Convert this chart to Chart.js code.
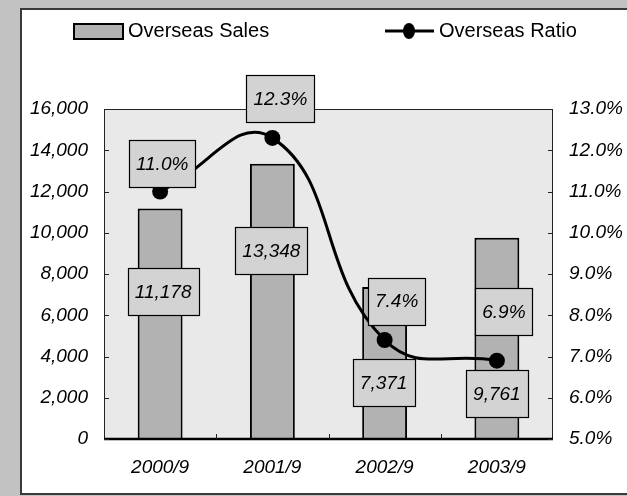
<!DOCTYPE html>
<html>
<head>
<meta charset="utf-8">
<script src="https://cdn.jsdelivr.net/npm/chart.js@4.4.1/dist/chart.umd.min.js"></script>
<style>
  html, body { margin: 0; padding: 0; background: #c2c2c2; }
  canvas { display: block; }
</style>
</head>
<body>
<canvas id="overseasChart" width="627" height="496"></canvas>
<script>
const categories = ['2000/9', '2001/9', '2002/9', '2003/9'];
const salesValues = [11178, 13348, 7371, 9761];
const ratioValues = [11.0, 12.3, 7.4, 6.9];
const salesTicks = [0, 2000, 4000, 6000, 8000, 10000, 12000, 14000, 16000];
const ratioTicks = [5, 6, 7, 8, 9, 10, 11, 12, 13];

// label box offsets from the point / bar top (px)
const ratioLabelOffsets = [[2, -28], [8, -39], [12, -39], [7, -49]];
const salesLabelOffsets = [[3, 83], [-1, 87], [-1, 96], [0, 156]];

const FONT = "'Liberation Sans', Arial, sans-serif";
const OUTER_BG = '#c2c2c2';
const PLOT_BG = '#e9e9e9';
const BAR_BG = '#b2b2b2';
const BOX_BG = '#d3d3d3';

function fmtSales(v) {
    return v.toLocaleString('en-US');
}
function fmtRatio(v) {
    return v.toFixed(1) + '%';
}

function drawBox(ctx, cx, cy, text) {
    ctx.font = 'italic 19px ' + FONT;
    const w = Math.round(ctx.measureText(text).width) + 14;
    const h = 47;
    const x = Math.round(cx - w / 2) + 0.5;
    const y = Math.round(cy - h / 2) + 0.5;
    ctx.fillStyle = BOX_BG;
    ctx.fillRect(x, y, w, h);
    ctx.strokeStyle = '#000';
    ctx.lineWidth = 1.2;
    ctx.strokeRect(x, y, w, h);
    ctx.fillStyle = '#000';
    ctx.textAlign = 'center';
    ctx.textBaseline = 'middle';
    ctx.fillText(text, cx, cy + 1);
}

const framePlugin = {
    id: 'framePlugin',
    beforeDraw(chart) {
        const ctx = chart.ctx;
        const a = chart.chartArea;
        ctx.save();
        ctx.fillStyle = OUTER_BG;
        ctx.fillRect(0, 0, chart.width, chart.height);
        ctx.fillStyle = '#fff';
        ctx.fillRect(20, 8, chart.width - 20, 487);
        ctx.strokeStyle = '#3a3a3a';
        ctx.lineWidth = 2;
        ctx.beginPath();
        ctx.moveTo(chart.width, 9);
        ctx.lineTo(21, 9);
        ctx.lineTo(21, 494);
        ctx.lineTo(chart.width, 494);
        ctx.stroke();
        ctx.fillStyle = PLOT_BG;
        ctx.fillRect(a.left, a.top, a.right - a.left, a.bottom - a.top);

        // legend
        ctx.fillStyle = BAR_BG;
        ctx.fillRect(74, 24, 49, 15);
        ctx.strokeStyle = '#000';
        ctx.lineWidth = 2;
        ctx.strokeRect(74, 24, 49, 15);
        ctx.fillStyle = '#000';
        ctx.font = '20px ' + FONT;
        ctx.textAlign = 'left';
        ctx.textBaseline = 'middle';
        ctx.fillText('Overseas Sales', 128, 31);
        ctx.lineWidth = 3;
        ctx.beginPath();
        ctx.moveTo(385, 31);
        ctx.lineTo(434, 31);
        ctx.stroke();
        ctx.beginPath();
        ctx.ellipse(409, 31, 6, 8, 0, 0, Math.PI * 2);
        ctx.fill();
        ctx.fillText('Overseas Ratio', 439, 31);
        ctx.restore();
    },
    afterDatasetsDraw(chart) {
        const ctx = chart.ctx;
        const a = chart.chartArea;
        ctx.save();
        // plot border
        ctx.strokeStyle = '#222';
        ctx.lineWidth = 1;
        ctx.strokeRect(a.left + 0.5, a.top + 0.5, a.right - a.left - 1, a.bottom - a.top);
        ctx.lineWidth = 2.5;
        ctx.strokeStyle = '#000';
        ctx.beginPath();
        ctx.moveTo(a.left, a.bottom);
        ctx.lineTo(a.right, a.bottom);
        ctx.stroke();

        // inward tick marks
        ctx.lineWidth = 1;
        ctx.strokeStyle = '#222';
        const y = chart.scales.y;
        const y1 = chart.scales.y1;
        const x = chart.scales.x;
        salesTicks.forEach(v => {
            const py = Math.round(y.getPixelForValue(v)) + 0.5;
            ctx.beginPath();
            ctx.moveTo(a.left, py);
            ctx.lineTo(a.left + 5, py);
            ctx.stroke();
        });
        ratioTicks.forEach(v => {
            const py = Math.round(y1.getPixelForValue(v)) + 0.5;
            ctx.beginPath();
            ctx.moveTo(a.right - 5, py);
            ctx.lineTo(a.right, py);
            ctx.stroke();
        });
        const step = (a.right - a.left) / categories.length;
        for (let i = 1; i < categories.length; i++) {
            const px = Math.round(a.left + step * i) + 0.5;
            ctx.beginPath();
            ctx.moveTo(px, a.bottom);
            ctx.lineTo(px, a.bottom - 5);
            ctx.stroke();
        }

        // data labels
        const bars = chart.getDatasetMeta(0).data;
        const points = chart.getDatasetMeta(1).data;
        bars.forEach((bar, i) => {
            const off = salesLabelOffsets[i];
            drawBox(ctx, bar.x + off[0], bar.y + off[1], fmtSales(salesValues[i]));
        });
        points.forEach((pt, i) => {
            const off = ratioLabelOffsets[i];
            drawBox(ctx, pt.x + off[0], pt.y + off[1], fmtRatio(ratioValues[i]));
        });
        ctx.restore();
    }
};

window.addEventListener('load', function () {
    const ctx = document.getElementById('overseasChart').getContext('2d');
    const tickFont = { family: FONT, size: 19, style: 'italic' };

    new Chart(ctx, {
        data: {
            labels: categories,
            datasets: [{
                type: 'bar',
                label: 'Overseas Sales',
                data: salesValues,
                yAxisID: 'y',
                backgroundColor: BAR_BG,
                borderColor: '#000',
                borderWidth: 2,
                borderSkipped: 'bottom',
                barPercentage: 0.4,
                categoryPercentage: 1,
                order: 2
            }, {
                type: 'line',
                label: 'Overseas Ratio',
                data: ratioValues,
                yAxisID: 'y1',
                borderColor: '#000',
                borderWidth: 3,
                tension: 0.45,
                pointRadius: 8,
                pointBackgroundColor: '#000',
                pointBorderColor: '#000',
                pointBorderWidth: 0,
                order: 1
            }]
        },
        options: {
            responsive: false,
            animation: false,
            devicePixelRatio: 1,
            layout: {
                padding: { top: 109, left: 0, right: 0, bottom: 0 }
            },
            plugins: {
                legend: { display: false },
                tooltip: { enabled: false }
            },
            scales: {
                x: {
                    grid: { display: false, drawTicks: false },
                    border: { display: false },
                    ticks: { font: tickFont, color: '#000', padding: 17, maxRotation: 0 },
                    afterFit: function (scale) { scale.height = 57; }
                },
                y: {
                    position: 'left',
                    min: 0,
                    max: 16000,
                    grid: { display: false, drawTicks: false },
                    border: { display: false },
                    afterBuildTicks: function (scale) {
                        scale.ticks = salesTicks.map(v => ({ value: v }));
                    },
                    ticks: {
                        font: tickFont,
                        color: '#000',
                        padding: 16,
                        callback: function (value) {
                            return fmtSales(value);
                        }
                    },
                    afterFit: function (scale) { scale.width = 104; }
                },
                y1: {
                    position: 'right',
                    min: 5,
                    max: 13,
                    grid: { display: false, drawTicks: false },
                    border: { display: false },
                    afterBuildTicks: function (scale) {
                        scale.ticks = ratioTicks.map(v => ({ value: v }));
                    },
                    ticks: {
                        font: tickFont,
                        color: '#000',
                        padding: 16,
                        callback: function (value) {
                            return fmtRatio(value);
                        }
                    },
                    afterFit: function (scale) { scale.width = 74; }
                }
            }
        },
        plugins: [framePlugin]
    });
});
</script>
</body>
</html>
